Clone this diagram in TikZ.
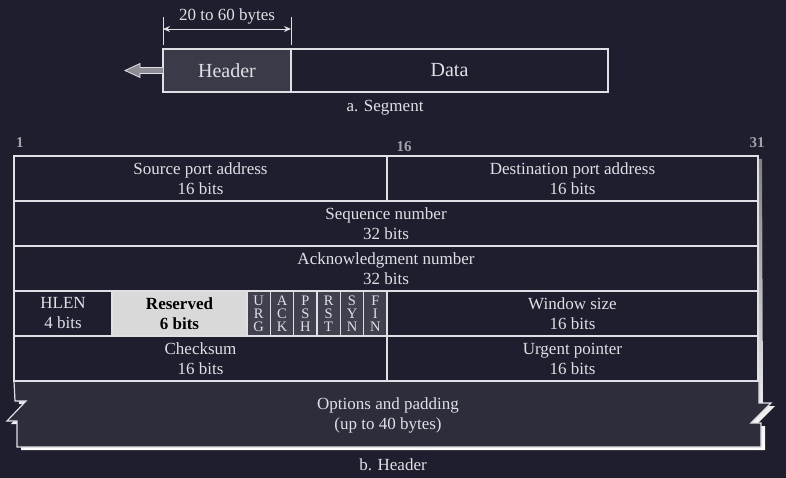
\documentclass[tikz,border=0pt]{standalone}
\usepackage{fontspec}
\setmainfont{Liberation Serif}
\usepackage{tikz}
\usetikzlibrary{arrows.meta}

\definecolor{bg}{HTML}{1F1E2E}
\definecolor{ink}{HTML}{E0E0E4}
\definecolor{hdrfill}{HTML}{3A3A48}
\definecolor{optfill}{HTML}{2E2D3C}
\definecolor{flagfill}{HTML}{41404E}
\definecolor{resfill}{HTML}{D9D9D9}
\definecolor{shade}{HTML}{A8A8AE}
\definecolor{numgray}{HTML}{A2A2AA}
\definecolor{arrowgray}{HTML}{8C8C92}

\tikzset{
	field/.style={draw=ink, line width=1.2pt, fill=bg, anchor=north west, inner sep=0pt, outer sep=0pt,
		minimum height=45pt, align=center, text=ink, font=\fontsize{17}{20}\selectfont},
	flag/.style={field, fill=flagfill, minimum width=23.33pt, font=\fontsize{14.5}{13}\selectfont},
	bitno/.style={text=numgray, font=\fontsize{15}{15}\selectfont\bfseries},
	caption/.style={text=ink, align=center, font=\fontsize{17}{20}\selectfont}
}

\begin{document}
\begin{tikzpicture}[x=1pt, y=-1pt]
	\fill[bg] (0,0) rectangle (786,478);
	\useasboundingbox (0,0) rectangle (786,478);

	% a. Segment
	\node[field, fill=hdrfill, minimum width=128pt, minimum height=43pt, font=\fontsize{20}{22}\selectfont] (hdr) at (163,49) {Header};
	\node[field, minimum width=317pt, minimum height=43pt, font=\fontsize{20}{22}\selectfont] (data) at (291,49) {Data};
	\draw[ink, line width=0.8pt, fill=arrowgray] (hdr.west) ++(0,-3) -- ++(-23,0) -- ++(0,-4) -- ++(-15,7) -- ++(15,7) -- ++(0,-4) -- ++(23,0);
	\draw[ink, line width=0.9pt] (hdr.north west) ++(0,-4) -- ++(0,-28);
	\draw[ink, line width=0.9pt] (hdr.north east) ++(0,-4) -- ++(0,-28);
	\coordinate (dimL) at (163,29);
	\coordinate (dimR) at (291,29);
	\draw[ink, line width=0.9pt, {Stealth[length=7pt,width=6pt]}-{Stealth[length=7pt,width=6pt]}] (dimL) -- (dimR) node[caption, pos=0.5, above=1pt]{20 to 60 bytes};
	\node[caption] (capa) at (385,108) {a. Segment};

	% b. Header: shadow and options
	\fill[shade, shift={(4,3)}] (14,156) -- (758,156) -- (759,403) -- (771,403) -- (751,423) -- (761,423) -- (761,447) -- (17,447) -- (17,421) -- (7,421) -- (26,401) -- (15,401) -- (14,381) -- cycle;
	\fill[bg] (14,156) rectangle (758,381);
	\draw[ink, line width=1.2pt, fill=optfill] (14,381) -- (759,381) -- (759,403) -- (771,403) -- (751,423) -- (761,423) -- (761,447) -- (17,447) -- (17,421) -- (7,421) -- (26,401) -- (15,401) -- cycle;
	\node[caption] (opts) at (388,415) {Options and padding\\(up to 40 bytes)};

	\node[bitno] (b1) at (20,143) {1};
	\node[bitno] (b16) at (404,147) {16};
	\node[bitno] (b31) at (757,143) {31};

	\node[field, minimum width=373pt] (src) at (14,156) {Source port address\\16 bits};
	\node[field, minimum width=371pt] (dst) at (387,156) {Destination port address\\16 bits};
	\node[field, minimum width=744pt] (seq) at (14,201) {Sequence number\\32 bits};
	\node[field, minimum width=744pt] (ack) at (14,246) {Acknowledgment number\\32 bits};
	\node[field, minimum width=98pt] (hlen) at (14,291) {HLEN\\4 bits};
	\node[field, fill=resfill, text=black, minimum width=135pt, font=\fontsize{17}{20}\selectfont\bfseries] (resv) at (112,291) {Reserved\\6 bits};
	\foreach \a/\b/\c [count=\i from 0] in {U/R/G, A/C/K, P/S/H, R/S/T, S/Y/N, F/I/N}
		\node[flag] (flag\i) at (247+23.33*\i,291) {\a\\\b\\\c};
	\node[field, minimum width=371pt] (win) at (387,291) {Window size\\16 bits};
	\node[field, minimum width=373pt] (cks) at (14,336) {Checksum\\16 bits};
	\node[field, minimum width=371pt] (urg) at (387,336) {Urgent pointer\\16 bits};

	\node[caption] (capb) at (393,465) {b. Header};
\end{tikzpicture}
\end{document}
